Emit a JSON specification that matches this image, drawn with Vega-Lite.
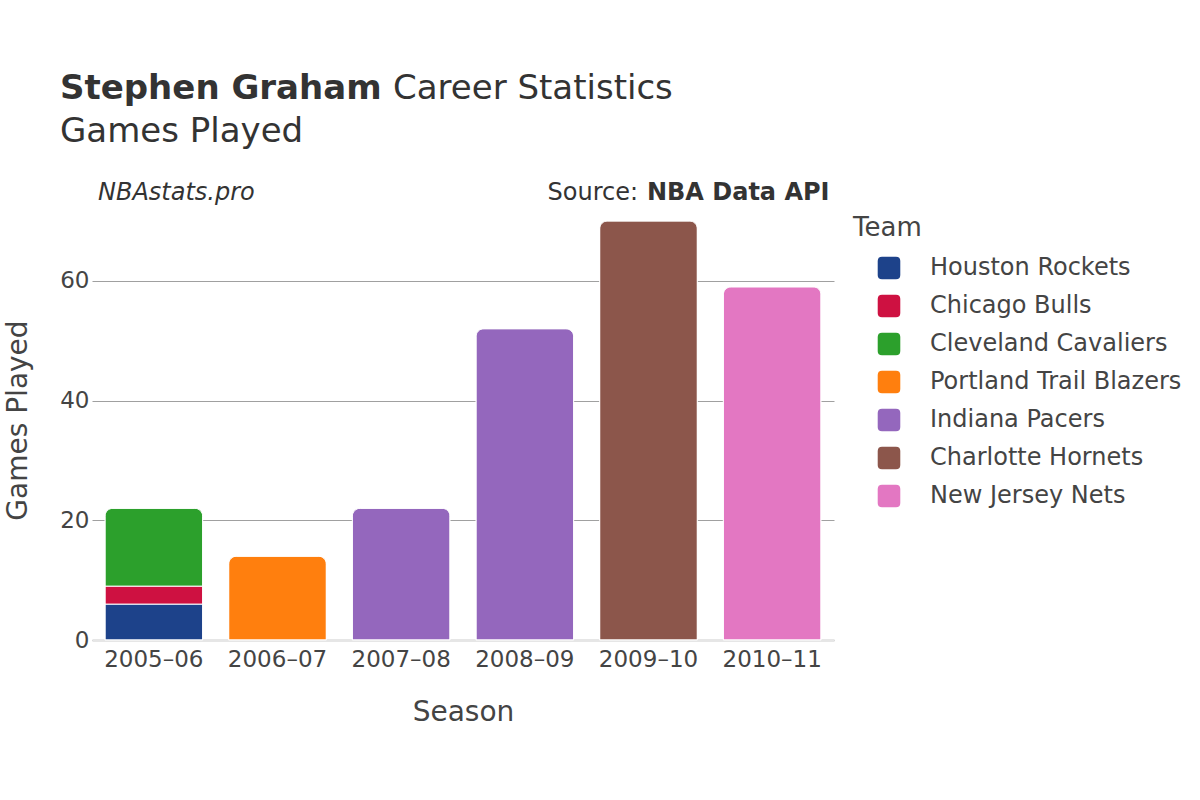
{
  "$schema": "https://vega.github.io/schema/vega-lite/v6.json",
  "width": 742,
  "height": 440,
  "autosize": {"type": "none"},
  "padding": {"left": 92, "top": 200, "right": 366, "bottom": 160},
  "background": "white",
  "config": {"font": "DejaVu Sans", "view": {"stroke": null}},
  "layer": [
    {
      "data": {"values": [
        {"season": "2005–06", "team": "Houston Rockets", "games": 6},
        {"season": "2005–06", "team": "Chicago Bulls", "games": 3},
        {"season": "2005–06", "team": "Cleveland Cavaliers", "games": 13},
        {"season": "2006–07", "team": "Portland Trail Blazers", "games": 14},
        {"season": "2007–08", "team": "Indiana Pacers", "games": 22},
        {"season": "2008–09", "team": "Indiana Pacers", "games": 52},
        {"season": "2009–10", "team": "Charlotte Hornets", "games": 70},
        {"season": "2010–11", "team": "New Jersey Nets", "games": 59}
      ]},
      "transform": [{"window": [{"op": "row_number", "as": "rowIndex"}]}],
      "mark": {"type": "bar", "cornerRadiusEnd": 8, "stroke": "white", "strokeWidth": 1},
      "encoding": {
        "x": {
          "field": "season", "type": "nominal", "title": "Season",
          "scale": {"paddingInner": 0.21, "paddingOuter": 0.105},
          "axis": {"labelAngle": 0, "labelFontSize": 23, "labelColor": "#444", "labelPadding": 8, "ticks": false,
                   "domainColor": "#e6e6e6", "domainWidth": 3, "titleFontSize": 28, "titleFontWeight": "normal",
                   "titleColor": "#444", "titlePadding": 27}
        },
        "y": {
          "field": "games", "type": "quantitative", "stack": "zero", "title": "Games Played",
          "scale": {"domain": [0, 73.5], "nice": false},
          "axis": {"values": [0, 20, 40, 60], "labelFontSize": 23, "labelColor": "#444", "labelPadding": 3,
                   "ticks": false, "domain": false, "gridColor": "#a0a0a0", "gridWidth": 1,
                   "titleFontSize": 28, "titleFontWeight": "normal", "titleColor": "#444", "titlePadding": 27}
        },
        "order": {"field": "rowIndex", "type": "quantitative"},
        "color": {
          "field": "team", "type": "nominal", "title": "Team",
          "sort": ["Houston Rockets", "Chicago Bulls", "Cleveland Cavaliers", "Portland Trail Blazers", "Indiana Pacers", "Charlotte Hornets", "New Jersey Nets"],
          "scale": {
            "domain": ["Houston Rockets", "Chicago Bulls", "Cleveland Cavaliers", "Portland Trail Blazers", "Indiana Pacers", "Charlotte Hornets", "New Jersey Nets"],
            "range": ["#1d428a", "#ce1141", "#2ca02c", "#ff7f0e", "#9467bd", "#8c564b", "#e377c2"]
          },
          "legend": {
            "orient": "none", "legendX": 761, "legendY": 15, "padding": 0,
            "titleFontSize": 26, "titleFontWeight": "normal", "titleColor": "#444", "titlePadding": 15,
            "labelFontSize": 24, "labelColor": "#444", "labelOffset": 29, "labelLimit": 400,
            "symbolType": "M-0.62,-1H0.62Q1,-1,1,-0.62V0.62Q1,1,0.62,1H-0.62Q-1,1,-1,0.62V-0.62Q-1,-1,-0.62,-1Z",
            "symbolSize": 510, "symbolOffset": 24, "symbolStrokeWidth": 0, "symbolOpacity": 1, "rowPadding": 14
          }
        }
      }
    },
    {
      "data": {"values": [{"label": "Stephen Graham"}]},
      "mark": {"type": "text", "fontSize": 34, "fontWeight": "bold", "align": "left", "baseline": "alphabetic", "color": "#333", "dx": -45},
      "encoding": {
        "x": {"datum": "2005–06", "type": "nominal", "bandPosition": 0, "title": "Season"},
        "y": {"datum": 90.32, "type": "quantitative", "title": "Games Played"},
        "text": {"field": "label", "type": "nominal"}
      }
    },
    {
      "data": {"values": [{"label": "Career Statistics"}]},
      "mark": {"type": "text", "fontSize": 34, "align": "left", "baseline": "alphabetic", "color": "#333", "dx": 288},
      "encoding": {
        "x": {"datum": "2005–06", "type": "nominal", "bandPosition": 0, "title": "Season"},
        "y": {"datum": 90.32, "type": "quantitative", "title": "Games Played"},
        "text": {"field": "label", "type": "nominal"}
      }
    },
    {
      "data": {"values": [{"label": "Games Played"}]},
      "mark": {"type": "text", "fontSize": 34, "align": "left", "baseline": "alphabetic", "color": "#333", "dx": -45},
      "encoding": {
        "x": {"datum": "2005–06", "type": "nominal", "bandPosition": 0, "title": "Season"},
        "y": {"datum": 83.13, "type": "quantitative", "title": "Games Played"},
        "text": {"field": "label", "type": "nominal"}
      }
    },
    {
      "data": {"values": [{"label": "NBAstats.pro"}]},
      "mark": {"type": "text", "fontSize": 24, "fontStyle": "italic", "align": "left", "baseline": "alphabetic", "color": "#333", "dx": -7},
      "encoding": {
        "x": {"datum": "2005–06", "type": "nominal", "bandPosition": 0, "title": "Season"},
        "y": {"datum": 73.45, "type": "quantitative", "title": "Games Played"},
        "text": {"field": "label", "type": "nominal"}
      }
    },
    {
      "data": {"values": [{"label": "NBA Data API"}]},
      "mark": {"type": "text", "fontSize": 24, "fontWeight": "bold", "align": "right", "baseline": "alphabetic", "color": "#333", "dx": 8.5},
      "encoding": {
        "x": {"datum": "2010–11", "type": "nominal", "bandPosition": 1, "title": "Season"},
        "y": {"datum": 73.45, "type": "quantitative", "title": "Games Played"},
        "text": {"field": "label", "type": "nominal"}
      }
    },
    {
      "data": {"values": [{"label": "Source:"}]},
      "mark": {"type": "text", "fontSize": 24, "align": "right", "baseline": "alphabetic", "color": "#333", "dx": -183},
      "encoding": {
        "x": {"datum": "2010–11", "type": "nominal", "bandPosition": 1, "title": "Season"},
        "y": {"datum": 73.45, "type": "quantitative", "title": "Games Played"},
        "text": {"field": "label", "type": "nominal"}
      }
    }
  ]
}
